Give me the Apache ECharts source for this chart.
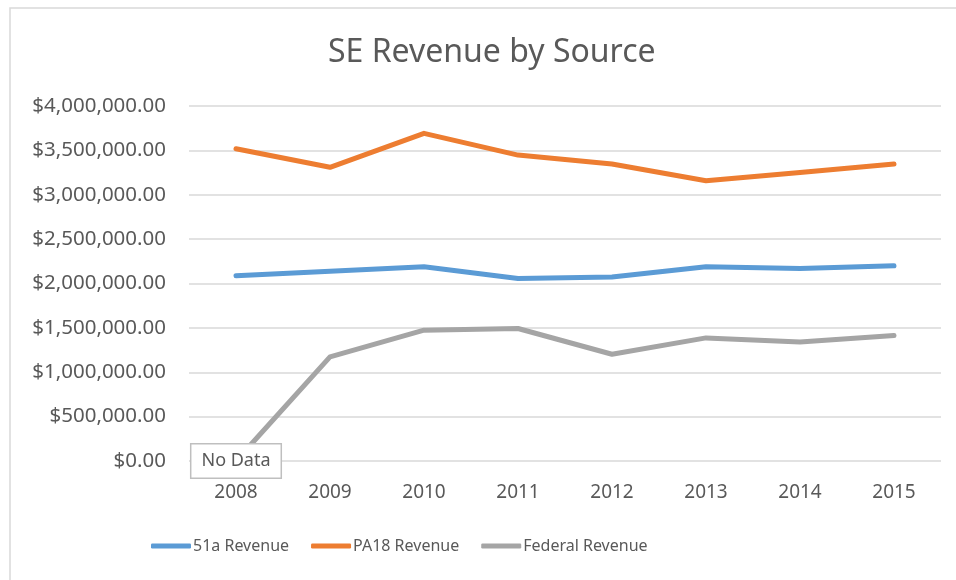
<!DOCTYPE html>
<html>
<head>
<meta charset="utf-8">
<script src="https://cdn.jsdelivr.net/npm/echarts@6/dist/echarts.min.js"></script>
<style>
    html, body { margin: 0; padding: 0; background: #fff; }
    #chart { width: 956px; height: 580px; }
</style>
</head>
<body>
<div id="chart"></div>
<script type="text/javascript">
    var years = ['2008', '2009', '2010', '2011', '2012', '2013', '2014', '2015'];
    var rev51a = [2086000, 2139000, 2188000, 2057000, 2072000, 2188000, 2170000, 2199000];
    var revPA18 = [3518000, 3309000, 3692000, 3447000, 3346000, 3158000, 3252000, 3346000];
    var revFederal = [0, 1173000, 1474000, 1493000, 1203000, 1387000, 1342000, 1414000];
    var noDataIndex = 0;

    var FONT = '"Noto Sans", "Liberation Sans", sans-serif';
    var TEXT = '#595959';

    function money(v) {
        var s = Math.round(v).toString().replace(/\B(?=(\d{3})+(?!\d))/g, ',');
        return '$' + s + '.00';
    }

    // federal 2008 has no data -> label box on the point
    var fedData = revFederal.map(function (v, i) {
        if (i === noDataIndex) {
            return {
                value: v,
                label: {
                    show: true,
                    position: 'inside',
                    formatter: 'No Data',
                    color: TEXT,
                    fontFamily: FONT,
                    fontSize: 18,
                    backgroundColor: '#fff',
                    borderColor: '#bfbfbf',
                    borderWidth: 1.5,
                    padding: [8, 10, 7, 10]
                }
            };
        }
        return v;
    });

    var myChart = echarts.init(document.getElementById('chart'));
    var option = {
        animation: false,
        backgroundColor: '#fff',
        graphic: [{
            type: 'rect',
            shape: { x: 10, y: 8, width: 960, height: 590 },
            style: { fill: 'none', stroke: '#d9d9d9', lineWidth: 1.5 },
            silent: true
        }],
        title: {
            text: 'SE Revenue by Source',
            left: 323,
            top: 32,
            textStyle: { fontFamily: FONT, fontSize: 32, fontWeight: 'normal', color: TEXT }
        },
        legend: {
            top: 533,
            left: 146,
            itemWidth: 40,
            itemHeight: 5,
            itemGap: 22,
            icon: 'roundRect',
            textStyle: { fontFamily: FONT, fontSize: 16, color: TEXT, padding: [0, 0, 0, -3] },
            data: ['51a Revenue', 'PA18 Revenue', 'Federal Revenue']
        },
        grid: {
            left: 189,
            right: 15,
            top: 106,
            bottom: 119,
            containLabel: false
        },
        xAxis: {
            type: 'category',
            data: years,
            boundaryGap: true,
            axisLine: { show: false },
            axisTick: { show: false },
            axisLabel: { fontFamily: FONT, fontSize: 19, color: TEXT, margin: 22 }
        },
        yAxis: {
            type: 'value',
            min: 0,
            max: 4000000,
            interval: 500000,
            axisLine: { show: false },
            axisTick: { show: false },
            splitLine: { lineStyle: { color: '#d9d9d9', width: 1.5 } },
            axisLabel: { fontFamily: FONT, fontSize: 20.5, color: TEXT, margin: 23, formatter: money }
        },
        series: [
            {
                name: '51a Revenue',
                type: 'line',
                data: rev51a,
                symbol: 'none',
                color: '#5b9bd5',
                lineStyle: { width: 5, cap: 'round', join: 'round' }
            },
            {
                name: 'PA18 Revenue',
                type: 'line',
                data: revPA18,
                symbol: 'none',
                color: '#ed7d31',
                lineStyle: { width: 5, cap: 'round', join: 'round' }
            },
            {
                name: 'Federal Revenue',
                type: 'line',
                data: fedData,
                symbol: 'circle',
                symbolSize: 1,
                showSymbol: true,
                color: '#a5a5a5',
                lineStyle: { width: 5, cap: 'round', join: 'round' },
                label: { show: false },
                z: 3
            }
        ]
    };
    myChart.setOption(option);
</script>
</body>
</html>
